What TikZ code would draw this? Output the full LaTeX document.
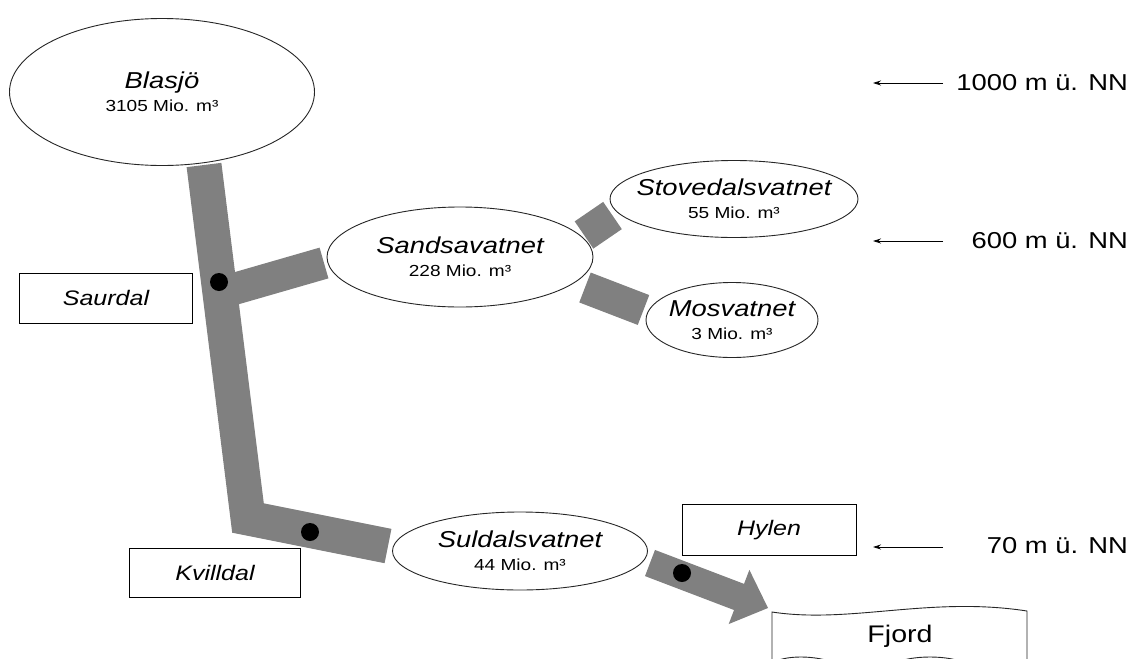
\documentclass[tikz,border=0pt]{standalone}
\usepackage{fontspec}
\setmainfont{Liberation Sans}[FakeStretch=1.19]
\usetikzlibrary{shapes.geometric,arrows.meta,calc}
\definecolor{pipegray}{HTML}{808080}
\pgfdeclarelayer{background}
\pgfsetlayers{background,main}
\newcommand\lakename[1]{{\fontsize{23}{23}\selectfont\itshape #1}}
\begin{document}
\begin{tikzpicture}[x=1pt,y=-1pt,
  lake/.style={ellipse, draw=black!85, line width=0.9pt, fill=white, align=center,
    inner ysep=0pt, inner xsep=-45pt, font=\fontsize{16}{23}\selectfont},
  plant/.style={draw=black, line width=1pt, fill=white, inner sep=0pt,
    minimum width=173pt, minimum height=50pt, font=\fontsize{21}{24}\selectfont\itshape},
  level/.style={anchor=east, inner sep=0pt, font=\fontsize{23}{26}\selectfont},
  lvlarrow/.style={draw=black, line width=0.8pt, -{Stealth[length=8pt,width=5pt]}},
  pipe/.style={draw=pipegray, line join=miter, line cap=butt},
  dot/.style={circle, fill=black, inner sep=0pt, minimum size=18pt}]
\useasboundingbox (0,0) rectangle (1136,659);
\clip (0,0) rectangle (1136,659);

% lakes
\node[lake, minimum width=305pt, minimum height=147pt] (blasjo) at (162,92)
  {\lakename{Blasjö}\\3105 Mio. m³};
\node[lake, minimum width=266pt, minimum height=100pt] (sand) at (460,257)
  {\lakename{Sandsavatnet}\\228 Mio. m³};
\node[lake, minimum width=248pt, minimum height=77pt] (stove) at (734,199)
  {\lakename{Stovedalsvatnet}\\55 Mio. m³};
\node[lake, minimum width=172pt, minimum height=75pt] (mos) at (732,320)
  {\lakename{Mosvatnet}\\3 Mio. m³};
\node[lake, minimum width=255pt, minimum height=78pt] (suld) at (520,551)
  {\lakename{Suldalsvatnet}\\44 Mio. m³};

% power plants
\node[plant] (saurdal) at (106,298) {Saurdal};
\node[plant, minimum width=171pt, minimum height=49pt] (kvilldal) at (215,573) {Kvilldal};
\node[plant, minimum width=174pt, minimum height=51pt] (hylen) at (769,530) {Hylen};

% fjord
\draw[line width=0.9pt, draw=black!85, fill=white]
  (772,612) .. controls (850,624) and (930,596) .. (1027,611) -- (1027,680) -- (772,680) -- cycle;
\draw[line width=0.9pt, draw=black!85]
  (772,663) .. controls (785,655) and (815,655) .. (835,663)
  (895,663) .. controls (912,655) and (948,655) .. (965,663);
\node[inner sep=0pt, font=\fontsize{24}{26}\selectfont] (fjord) at (900,636) {Fjord};

% levels
\node[level] (l1000) at (1128,83) {1000 m ü. NN};
\node[level] (l600) at (1128,241) {600 m ü. NN};
\node[level] (l70) at (1128,546) {70 m ü. NN};
\coordinate (s1000) at (943,83);  \coordinate (e1000) at (873,83);
\coordinate (s600) at (943,241);  \coordinate (e600) at (873,241);
\coordinate (s70) at (943,547);   \coordinate (e70) at (873,547);
\draw[lvlarrow] (s1000) -- (e1000);
\draw[lvlarrow] (s600) -- (e600);
\draw[lvlarrow] (s70) -- (e70);

% pipe coordinates
\coordinate (blOut) at (204,165);
\coordinate (corner) at (248,518);
\coordinate (suldIn) at (388,546);
\coordinate (jSaur) at (220,293);
\coordinate (sandIn) at (324,263);
\coordinate (sandOut1) at (584,235);
\coordinate (stoveIn) at (612.5,215.5);
\coordinate (sandOut2) at (585,287.5);
\coordinate (mosIn) at (643.5,310);
\coordinate (as) at (650,563);
\coordinate (at) at (768,608);
\coordinate (ab) at ($(at)!31pt!(as)$);

\begin{pgfonlayer}{background}
\draw[pipe, line width=35pt] (blOut) -- (corner) -- (suldIn);
\draw[pipe, line width=32pt] (jSaur) -- (sandIn);
\draw[pipe, line width=33pt] (sandOut1) -- (stoveIn);
\draw[pipe, line width=32pt] (sandOut2) -- (mosIn);
\fill[pipegray] ($(as)!14pt!90:(at)$) -- ($(ab)!14pt!-90:(as)$) -- ($(ab)!29pt!-90:(as)$)
  -- (at) -- ($(ab)!29pt!90:(as)$) -- ($(ab)!14pt!90:(as)$) -- ($(as)!14pt!-90:(at)$) -- cycle;
\end{pgfonlayer}

% turbines
\node[dot] (d1) at (219,282) {};
\node[dot] (d2) at (310,532) {};
\node[dot] (d3) at (682,573) {};
\end{tikzpicture}
\end{document}
